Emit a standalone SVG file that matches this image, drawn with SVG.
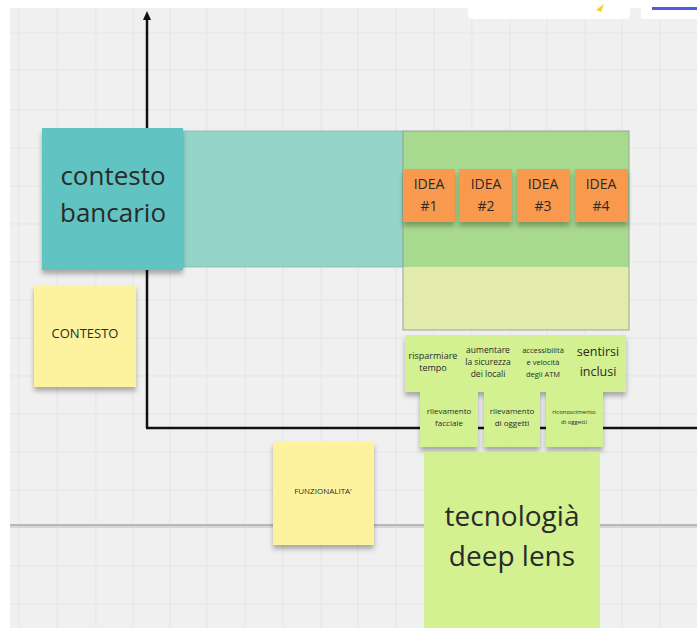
<svg xmlns="http://www.w3.org/2000/svg" width="697" height="628" viewBox="0 0 697 628">
<defs>
<style>
.t{font-family:"Open Sans","Noto Sans","Liberation Sans",sans-serif;fill:#2a2a2a;text-anchor:middle}
.grid line{stroke:#e5e5e5;stroke-width:1}
.g{fill:#d3f191}
.y{fill:#fdf39f}
.o{fill:#f8994e}
</style>
<filter id="sh" x="-20%" y="-20%" width="140%" height="150%">
<feDropShadow dx="0" dy="4" stdDeviation="2.5" flood-color="#000" flood-opacity="0.3"/>
</filter>
</defs>
<rect width="697" height="628" fill="#f0f0f0"/>
<g class="grid">
<line x1="19" y1="0" x2="19" y2="628"/><line x1="57" y1="0" x2="57" y2="628"/><line x1="96" y1="0" x2="96" y2="628"/><line x1="133" y1="0" x2="133" y2="628"/><line x1="170" y1="0" x2="170" y2="628"/><line x1="207" y1="0" x2="207" y2="628"/><line x1="245" y1="0" x2="245" y2="628" stroke="#dcdcdc"/><line x1="283" y1="0" x2="283" y2="628"/><line x1="321" y1="0" x2="321" y2="628"/><line x1="358" y1="0" x2="358" y2="628"/><line x1="396" y1="0" x2="396" y2="628"/><line x1="434" y1="0" x2="434" y2="628"/><line x1="472" y1="0" x2="472" y2="628"/><line x1="510" y1="0" x2="510" y2="628"/><line x1="547" y1="0" x2="547" y2="628"/><line x1="585" y1="0" x2="585" y2="628"/><line x1="622" y1="0" x2="622" y2="628"/><line x1="660" y1="0" x2="660" y2="628"/>
<line x1="0" y1="33" x2="697" y2="33"/><line x1="0" y1="70" x2="697" y2="70"/><line x1="0" y1="110" x2="697" y2="110"/><line x1="0" y1="148" x2="697" y2="148"/><line x1="0" y1="186" x2="697" y2="186"/><line x1="0" y1="224" x2="697" y2="224"/><line x1="0" y1="262" x2="697" y2="262"/><line x1="0" y1="300" x2="697" y2="300"/><line x1="0" y1="338" x2="697" y2="338"/><line x1="0" y1="376" x2="697" y2="376"/><line x1="0" y1="414" x2="697" y2="414"/><line x1="0" y1="452" x2="697" y2="452"/><line x1="0" y1="490" x2="697" y2="490"/><line x1="0" y1="566" x2="697" y2="566"/><line x1="0" y1="604" x2="697" y2="604"/>
</g>
<rect x="0" y="0" width="697" height="8" fill="#ffffff"/>
<rect x="0" y="0" width="10" height="628" fill="#ffffff"/>
<rect x="10" y="524" width="687" height="2" fill="#b8b8b8"/>
<rect x="10" y="526" width="687" height="2" fill="#d6d6d6"/>
<g id="toolbar">
<rect x="468" y="-6" width="162" height="25" rx="4" fill="#ffffff"/>
<rect x="641" y="-6" width="60" height="25" rx="4" fill="#ffffff"/>
<rect x="652" y="7" width="50" height="3" fill="#4b5ce8"/>
<path d="M596,10 L604,4 L601,12 Z" fill="#f4d02a"/>
</g>
<g id="connectors" fill="none" stroke="#111" stroke-width="2.5">
<line x1="147" y1="428" x2="147" y2="19"/>
<polygon points="147,11 143,20 151,20" fill="#111" stroke="none"/>
<line x1="146" y1="428" x2="697" y2="428"/>
</g>
<g id="band">
<rect x="150" y="131" width="253" height="136" fill="#95d4c8" stroke="#7fb9ad" stroke-width="0.8"/>
</g>
<g id="ideas-area">
<rect x="403" y="131" width="226" height="136" fill="#a7d98f"/>
<rect x="403" y="267" width="226" height="63" fill="#e2ebac"/>
<rect x="403" y="131" width="226" height="199" fill="none" stroke="#9aa58f" stroke-width="1"/>
</g>
<g id="contesto-bancario">
<rect x="42" y="128" width="141" height="142" fill="#62c4c2" filter="url(#sh)"/>
<text class="t" x="113" y="185" font-size="26">contesto</text>
<text class="t" x="113" y="222" font-size="26">bancario</text>
</g>
<g id="contesto">
<rect x="34" y="285" width="102" height="102" class="y" filter="url(#sh)"/>
<text class="t" x="85" y="338" font-size="13">CONTESTO</text>
</g>
<g id="idea1"><rect x="403" y="169" width="52" height="53" class="o" filter="url(#sh)"/><text class="t" x="429" y="189" font-size="14">IDEA</text><text class="t" x="429" y="211" font-size="14">#1</text></g>
<g id="idea2"><rect x="459" y="169" width="53" height="53" class="o" filter="url(#sh)"/><text class="t" x="486" y="189" font-size="14">IDEA</text><text class="t" x="486" y="211" font-size="14">#2</text></g>
<g id="idea3"><rect x="517" y="169" width="53" height="53" class="o" filter="url(#sh)"/><text class="t" x="543" y="189" font-size="14">IDEA</text><text class="t" x="543" y="211" font-size="14">#3</text></g>
<g id="idea4"><rect x="575" y="169" width="53" height="53" class="o" filter="url(#sh)"/><text class="t" x="601" y="189" font-size="14">IDEA</text><text class="t" x="601" y="211" font-size="14">#4</text></g>
<g id="needs">
<rect x="405" y="335" width="221" height="57" class="g" filter="url(#sh)"/>
</g>
<g id="risparmiare"><text class="t" x="433" y="359" font-size="9">risparmiare</text><text class="t" x="433" y="371" font-size="9">tempo</text></g>
<g id="sicurezza"><text class="t" x="488" y="353" font-size="8.5">aumentare</text><text class="t" x="488" y="365" font-size="8.5">la sicurezza</text><text class="t" x="488" y="377" font-size="8.5">dei locali</text></g>
<g id="accessibilita"><text class="t" x="543" y="353" font-size="7.5">accessibilità</text><text class="t" x="543" y="365" font-size="7.5">e velocità</text><text class="t" x="543" y="377" font-size="7.5">degli ATM</text></g>
<g id="inclusi"><text class="t" x="598" y="356" font-size="12.5">sentirsi</text><text class="t" x="598" y="376" font-size="12.5">inclusi</text></g>
<g id="facciale"><rect x="420" y="390" width="58" height="57" class="g" filter="url(#sh)"/><text class="t" x="449" y="414" font-size="8">rilevamento</text><text class="t" x="449" y="426" font-size="8">facciale</text></g>
<g id="oggetti"><rect x="484" y="390" width="56" height="57" class="g" filter="url(#sh)"/><text class="t" x="512" y="414" font-size="8">rilevamento</text><text class="t" x="512" y="426" font-size="8">di oggetti</text></g>
<g id="riconoscimento"><rect x="546" y="390" width="57" height="57" class="g" filter="url(#sh)"/><text class="t" x="574" y="414" font-size="6">riconoscimento</text><text class="t" x="574" y="424" font-size="6">di oggetti</text></g>
<g id="funzionalita">
<rect x="273" y="442" width="101" height="103" class="y" filter="url(#sh)"/>
<text class="t" x="323" y="494" font-size="8">FUNZIONALITA'</text>
</g>
<g id="deep-lens">
<rect x="424" y="452" width="176" height="180" class="g"/>
<text class="t" x="512" y="526" font-size="28">tecnologià</text>
<text class="t" x="512" y="566" font-size="28">deep lens</text>
</g>
</svg>
